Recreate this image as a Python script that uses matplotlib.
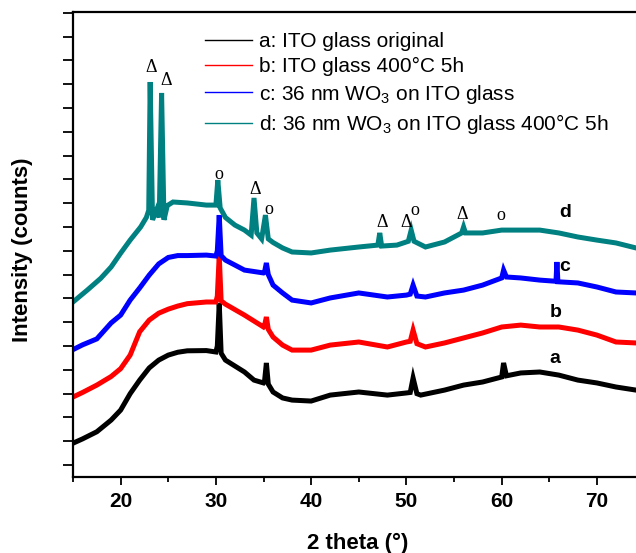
import matplotlib
matplotlib.use("Agg")
import matplotlib.pyplot as plt
from matplotlib.ticker import MultipleLocator

plt.rcParams["font.family"] = ["Liberation Sans", "DejaVu Sans"]
plt.rcParams["mathtext.fontset"] = "custom"
plt.rcParams["mathtext.rm"] = "Liberation Sans"
plt.rcParams["mathtext.it"] = "Liberation Sans:italic"
plt.rcParams["mathtext.bf"] = "Liberation Sans:bold"

# XRD patterns (stacked, arbitrary counts offset)
a_theta = [15, 16, 17.5, 19, 20, 21, 22, 23, 24, 25, 26, 27, 29, 30, 30.15, 30.35, 30.55, 31,
           32, 33, 34, 35, 35.1, 35.3, 35.5, 36, 37, 38, 40, 42, 45, 48, 50, 50.4, 50.7, 51.1,
           51.5, 54, 56, 58, 60, 60.2, 60.5, 62, 64, 66, 68, 70, 72, 74.1]
a_counts = [92, 110, 140, 189, 231, 300, 357, 408, 441, 462, 474, 480, 481, 475, 500, 681, 470,
            441, 416, 391, 357, 345, 350, 429, 340, 307, 282, 273, 269, 294, 307, 294, 303, 305,
            366, 300, 294, 315, 336, 349, 370, 429, 375, 387, 391, 378, 357, 345, 328, 315]

b_theta = [15, 16, 17.5, 19, 20, 21, 22, 23, 24, 25, 26, 27, 29, 30, 30.15, 30.35, 30.55, 31,
           33, 35, 35.1, 35.3, 35.5, 36, 37, 38, 40, 42, 45, 48, 50, 50.4, 50.7, 51.1, 52, 54,
           56, 58, 60, 62, 64, 66, 68, 70, 72, 74.1]
b_counts = [286, 305, 336, 372, 405, 462, 560, 609, 638, 655, 668, 678, 685, 685, 710, 882, 690,
            676, 630, 580, 585, 622, 570, 538, 504, 483, 483, 504, 517, 496, 517, 520, 567, 510,
            496, 513, 534, 555, 580, 588, 580, 580, 567, 546, 517, 513]

c_theta = [15, 16, 17.5, 19, 20, 21, 22, 23, 24, 25, 26, 27, 29, 30, 30.15, 30.35, 30.55, 31,
           33, 35, 35.1, 35.3, 35.5, 36, 37, 38, 40, 42, 45, 48, 50, 50.4, 50.7, 51.1, 52, 54,
           56, 58, 60, 60.2, 60.5, 62, 64, 65.7, 65.8, 65.9, 68, 70, 72, 74.1]
c_counts = [485, 505, 530, 597, 630, 693, 744, 798, 845, 872, 880, 880, 882, 878, 900, 1050, 880,
            861, 819, 807, 810, 849, 800, 756, 723, 693, 681, 702, 723, 706, 714, 718, 756, 710,
            706, 723, 735, 756, 786, 819, 790, 786, 777, 772, 853, 770, 765, 748, 727, 723]

d_theta = [15, 16.5, 17.9, 19, 20, 21, 22.1, 22.7, 22.95, 23.1, 23.35, 23.8, 24.05, 24.3, 24.55,
           24.9, 25.5, 27, 29, 30, 30.2, 30.45, 31, 32, 33, 33.7, 34, 34.3, 34.8, 35.2, 35.5, 36,
           37, 38, 40, 42, 45, 47, 47.2, 47.4, 49, 50.2, 50.5, 50.8, 52, 54, 55.8, 56, 56.2, 58,
           60, 62, 64, 66, 68, 70, 72, 74.1]
d_counts = [685, 735, 784, 832, 890, 945, 1000, 1040, 1070, 1609, 1030, 1075, 1040, 1563, 1030,
            1090, 1105, 1101, 1092, 1092, 1197, 1080, 1040, 1008, 987, 966, 1122, 975, 950, 1050,
            950, 935, 912, 895, 891, 903, 916, 924, 975, 920, 924, 940, 987, 940, 916, 937, 975,
            1000, 975, 975, 987, 987, 987, 975, 958, 945, 933, 912]

series_labels = [
    "a: ITO glass original",
    "b: ITO glass 400°C 5h",
    "c: 36 nm WO$_\\mathregular{3}$ on ITO glass",
    "d: 36 nm WO$_\\mathregular{3}$ on ITO glass 400°C 5h",
]
series_colors = ["#000000", "#ff0000", "#0000ff", "#008080"]

# phase markers: Δ = WO3, o = ITO
mark_symbols = ["Δ", "Δ", "o", "Δ", "o", "Δ", "Δ", "o", "Δ", "o"]
mark_theta = [23.19, 24.76, 30.31, 34.08, 35.55, 47.49, 49.95, 50.85, 55.86, 59.95]
mark_counts = [1651, 1596, 1201, 1138, 1054, 1000, 1000, 1050, 1033, 1029]

curve_tags = ["a", "b", "c", "d"]
tag_theta = [65.6, 65.65, 66.6, 66.7]
tag_counts = [428, 622, 815, 1042]

fig = plt.figure(figsize=(6.36, 5.53), dpi=100)
ax = fig.add_axes([73 / 636, 76 / 553, 563 / 636, 465 / 553])

lines = []
for th, ct, lab, col in zip([a_theta, b_theta, c_theta, d_theta],
                            [a_counts, b_counts, c_counts, d_counts],
                            series_labels, series_colors):
    ln, = ax.plot(th, ct, color=col, lw=3.6, label=lab, solid_joinstyle="miter")
    lines.append(ln)

for s, x, y in zip(mark_symbols, mark_theta, mark_counts):
    ax.text(x, y, s, ha="center", va="baseline", fontsize=13,
            family=["Liberation Serif", "DejaVu Serif"])

for s, x, y in zip(curve_tags, tag_theta, tag_counts):
    ax.text(x, y, s, ha="center", va="baseline", fontsize=14, fontweight="bold")

ax.set_xlim(15, 74.1)
ax.set_ylim(-50, 1903)

ax.xaxis.set_major_locator(MultipleLocator(10))
ax.xaxis.set_minor_locator(MultipleLocator(5))
ax.yaxis.set_major_locator(MultipleLocator(100))
ax.set_yticklabels([])
ax.tick_params(axis="x", which="major", direction="out", length=6, width=1.3,
               labelsize=15, pad=5)
ax.tick_params(axis="x", which="minor", direction="out", length=3.5, width=1.3)
ax.tick_params(axis="y", which="major", direction="out", length=7, width=1.3)
for lbl in ax.get_xticklabels():
    lbl.set_fontweight("bold")

for side in ["left", "bottom", "top"]:
    ax.spines[side].set_linewidth(1.6)
ax.spines["right"].set_visible(False)

ax.set_xlabel("2 theta (°)", fontsize=16, fontweight="bold", va="top")
ax.xaxis.set_label_coords((358 - 73) / 563, (477 - 533) / 465)
ax.set_ylabel("Intensity (counts)", fontsize=16, fontweight="bold")
ax.yaxis.set_label_coords((33 - 73) / 563, (477 - 250) / 465)

leg = ax.legend(handles=lines, loc="upper left",
                bbox_to_anchor=((205 - 73) / 563, (477 - 32) / 465),
                frameon=False, fontsize=15, handlelength=2.26, handletextpad=0.33,
                labelspacing=0.3, borderpad=0, borderaxespad=0)
for hl in leg.get_lines():
    hl.set_linewidth(1.0)

fig.savefig("out.png", dpi=100)
